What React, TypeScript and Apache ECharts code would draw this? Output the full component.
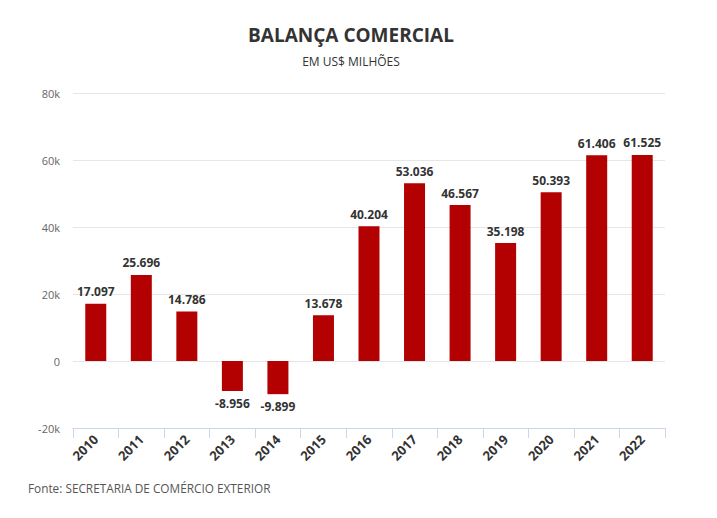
import React, { useEffect, useRef } from "react";
import * as echarts from "echarts";

const categories = ["2010", "2011", "2012", "2013", "2014", "2015", "2016", "2017", "2018", "2019", "2020", "2021", "2022"];
const values = [17097, 25696, 14786, -8956, -9899, 13678, 40204, 53036, 46567, 35198, 50393, 61406, 61525];
const yTicks = { min: -20000, max: 80000, interval: 20000 };

const FONT = "'Open Sans', sans-serif";

function fmt(v: number): string {
  const neg = v < 0;
  const a = Math.abs(v);
  const s = String(a).replace(/\B(?=(\d{3})+(?!\d))/g, ".");
  return (neg ? "-" : "") + s;
}

export default function App() {
  const ref = useRef<HTMLDivElement>(null);
  useEffect(() => {
    if (!ref.current) return;
    const chart = echarts.init(ref.current, undefined, { renderer: "svg" });
    chart.setOption({
      animation: false,
      backgroundColor: "#ffffff",
      title: [
        {
          text: "BALANÇA COMERCIAL",
          left: 346,
          top: 20,
          textAlign: "center",
          textStyle: { fontFamily: FONT, fontSize: 19, fontWeight: "bold", color: "#333333" },
        },
        {
          text: "EM US$ MILHÕES",
          left: 346,
          top: 50,
          textAlign: "center",
          textStyle: { fontFamily: FONT, fontSize: 12, fontWeight: "normal", color: "#333333" },
        },
        {
          text: "Fonte: SECRETARIA DE COMÉRCIO EXTERIOR",
          left: 23,
          top: 477,
          textStyle: { fontFamily: FONT, fontSize: 11.8, fontWeight: "normal", color: "#555555" },
        },
      ],
      grid: { left: 73, right: 52, top: 93, bottom: 90, containLabel: false },
      xAxis: {
        type: "category",
        data: categories,
        axisLine: { onZero: false, lineStyle: { color: "#ccd6eb" } },
        axisTick: { show: true, alignWithLabel: false, length: 10, lineStyle: { color: "#ccd6eb" } },
        axisLabel: {
          rotate: 45,
          interval: 0,
          margin: 9,
          fontFamily: FONT,
          fontSize: 13,
          fontWeight: "bold",
          color: "#333333",
        },
      },
      yAxis: {
        type: "value",
        min: yTicks.min,
        max: yTicks.max,
        interval: yTicks.interval,
        axisLine: { show: false },
        axisTick: { show: false },
        splitLine: { lineStyle: { color: "#e6e6e6" } },
        axisLabel: {
          margin: 13,
          fontFamily: FONT,
          fontSize: 11,
          color: "#666666",
          formatter: (v: number) => (v === 0 ? "0" : v / 1000 + "k"),
        },
      },
      series: [
        {
          type: "bar",
          data: values.map((v) => ({
            value: v,
            label: { position: v < 0 ? "bottom" : "top" },
          })),
          barWidth: 21,
          itemStyle: { color: "#b30000" },
          label: {
            show: true,
            distance: 6,
            fontFamily: FONT,
            fontSize: 12,
            fontWeight: "bold",
            color: "#333333",
            formatter: (p: any) => fmt(p.value),
          },
        },
      ],
    });
    return () => chart.dispose();
  }, []);
  return <div ref={ref} style={{ position: "absolute", left: 0, top: 0, width: 717, height: 518 }} />;
}
